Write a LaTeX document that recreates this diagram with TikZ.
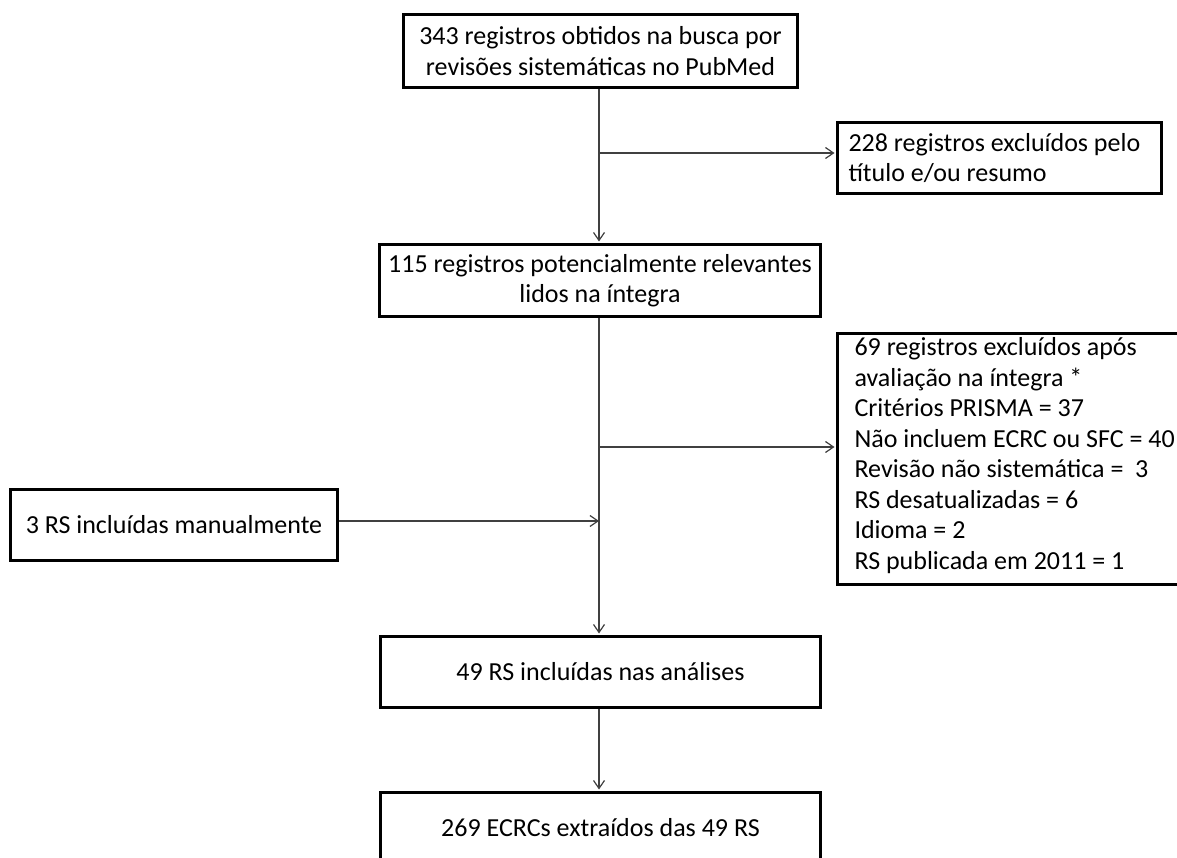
\documentclass[tikz,border=0pt]{standalone}
\usepackage{fontspec}
\setmainfont{Carlito}
\usetikzlibrary{arrows.meta}
\begin{document}
\begin{tikzpicture}[x=1pt,y=-1pt,
  box/.style={draw=black, line width=3pt, fill=white, inner ysep=0pt,
    font=\fontsize{26}{30.5}\selectfont},
  conn/.style={draw=black!75, line width=1.2pt, shorten >=1.5pt,
    -{Straight Barb[length=8pt,width=11pt,line width=1.2pt]}}]
\clip (0,0) rectangle (1177,858);
\fill[white] (0,0) rectangle (1177,858);

\node[box, minimum width=394, minimum height=73, align=center, inner xsep=4pt] (b1) at (600.5,51)
  {343 registros obtidos na busca por\\revisões sistemáticas no PubMed};
\node[box, minimum width=324, minimum height=71, inner xsep=11pt, text width=302pt, align=flush left] (b2) at (999.5,158)
  {228 registros excluídos pelo\\título e/ou resumo};
\node[box, minimum width=441, minimum height=72, align=center, inner xsep=4pt] (b3) at (600,280.5)
  {115 registros potencialmente relevantes\\lidos na íntegra};
\node[box, minimum width=364, minimum height=251, inner xsep=17pt, text width=330pt, text depth=225pt, align=flush left] (b4) at (1019.5,459)
  {69 registros excluídos após\\avaliação na íntegra *\\Critérios PRISMA = 37\\Não incluem ECRC ou SFC = 40\\Revisão não sistemática =~~3\\RS desatualizadas = 6\\Idioma = 2\\RS publicada em 2011 = 1};
\node[box, minimum width=327, minimum height=71, align=center, inner xsep=4pt] (b5) at (174,525)
  {3 RS incluídas manualmente};
\node[box, minimum width=440, minimum height=71, align=center, inner xsep=4pt] (b6) at (600.5,672)
  {49 RS incluídas nas análises};
\node[box, minimum width=440, minimum height=71, align=center, inner xsep=4pt] (b7) at (600.5,828)
  {269 ECRCs extraídos das 49 RS};

\coordinate (j1) at (599,153);
\coordinate (j2) at (599,447);
\coordinate (j3) at (599,521);

\draw[conn] (b1.south -| j1) -- (b3.north -| j1);
\draw[conn] (j1) -- (j1 -| b2.west);
\draw[conn] (b3.south -| j2) -- (b6.north -| j2);
\draw[conn] (j2) -- (j2 -| b4.west);
\draw[conn, shorten >=0pt] (b5.east |- j3) -- (j3);
\draw[conn] (b6.south -| j1) -- (b7.north -| j1);
\end{tikzpicture}
\end{document}
